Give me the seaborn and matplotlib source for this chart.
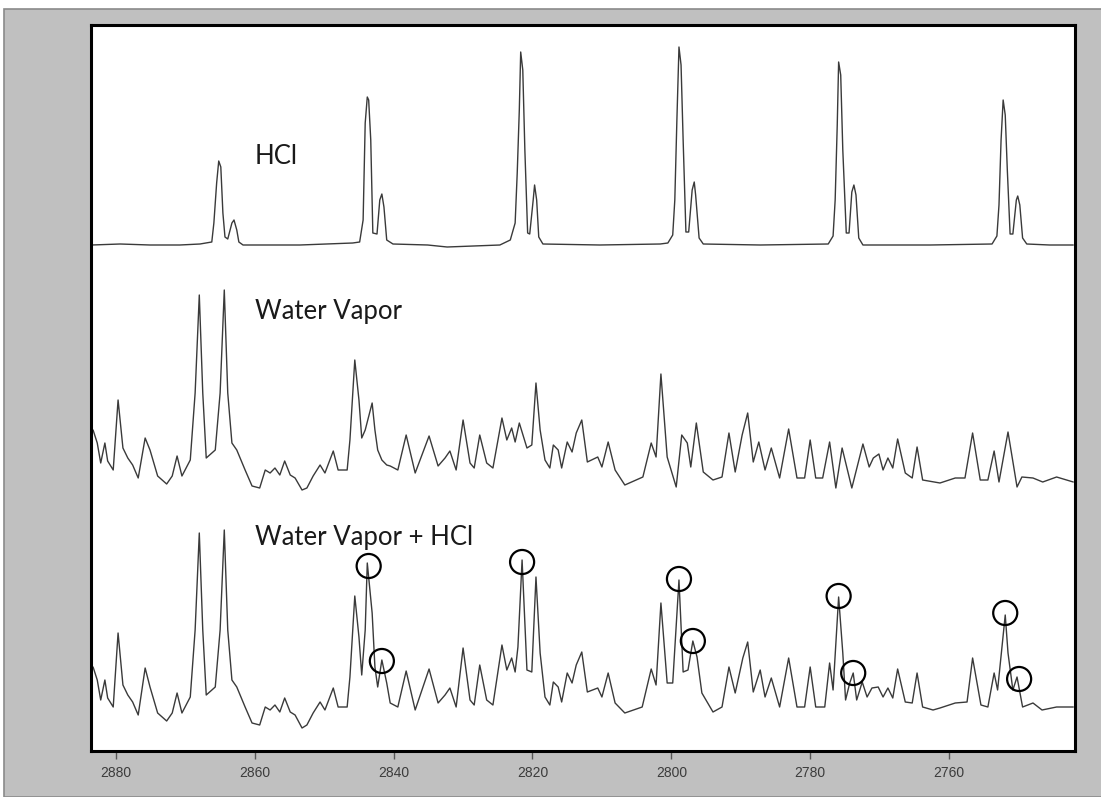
import numpy as np
import pandas as pd
import matplotlib
matplotlib.use("Agg")
import matplotlib.pyplot as plt
import seaborn as sns
from matplotlib.patches import Rectangle

# -------------------------------
# Data: wavenumber (cm-1) and intensity (a.u., own baseline = 0)
# -------------------------------
hcl_wn = [2883.5, 2879.4, 2875.1, 2870.8, 2867.9, 2866.2, 2865.9, 2865.5, 2865.2, 2864.9,
          2864.6, 2864.3, 2863.9, 2863.3, 2863.0, 2862.6, 2862.3, 2861.7, 2853.5, 2845.9,
          2844.9, 2844.4, 2844.1, 2843.8, 2843.6, 2843.3, 2843.0, 2842.4, 2842.0, 2841.7,
          2841.4, 2841.0, 2840.1, 2835.1, 2832.3, 2824.7, 2823.2, 2822.5, 2822.2, 2821.9,
          2821.7, 2821.4, 2821.1, 2820.7, 2820.4, 2819.9, 2819.7, 2819.4, 2819.1, 2818.5,
          2810.3, 2801.6, 2800.5, 2799.8, 2799.5, 2799.2, 2798.9, 2798.6, 2798.3, 2797.9,
          2797.5, 2797.0, 2796.7, 2796.5, 2796.0, 2795.4, 2787.2, 2777.4, 2776.7, 2776.4,
          2776.1, 2775.9, 2775.6, 2775.3, 2774.8, 2774.4, 2774.0, 2773.7, 2773.4, 2773.0,
          2772.4, 2762.7, 2753.8, 2753.1, 2752.8, 2752.5, 2752.2, 2751.9, 2751.6, 2751.2,
          2750.8, 2750.3, 2750.1, 2749.8, 2749.4, 2748.8, 2745.5, 2742.1]
hcl_int = [0, 1, 0, 0, 1, 3, 22, 62, 84, 78,
           32, 8, 6, 22, 25, 15, 3, 0, 0, 2,
           3, 25, 122, 148, 145, 105, 12, 11, 45, 51,
           38, 5, 1, 0, -2, 0, 5, 22, 72, 135,
           193, 175, 95, 12, 11, 45, 60, 45, 8, 1,
           0, 1, 2, 10, 45, 125, 198, 180, 105, 13,
           13, 55, 63, 50, 7, 1, 0, 1, 9, 45,
           120, 183, 170, 95, 12, 12, 53, 60, 50, 7,
           0, 0, 1, 9, 40, 105, 145, 130, 75, 11,
           11, 45, 49, 40, 7, 1, 0, 0]

water_wn = [2883.3, 2882.7, 2882.2, 2881.6, 2881.2, 2880.4, 2879.7, 2879.0, 2878.3, 2877.6,
            2876.8, 2875.8, 2875.1, 2874.0, 2872.7, 2871.9, 2871.2, 2870.5, 2869.3, 2868.6,
            2868.0, 2867.5, 2867.0, 2866.2, 2865.7, 2865.0, 2864.4, 2863.9, 2863.3, 2862.6,
            2861.4, 2860.4, 2859.3, 2858.5, 2857.8, 2857.1, 2856.4, 2855.7, 2854.9, 2854.2,
            2853.2, 2852.5, 2851.6, 2850.6, 2849.9, 2848.7, 2848.0, 2846.7, 2846.3, 2845.6,
            2845.0, 2844.6, 2844.1, 2843.1, 2842.7, 2842.3, 2841.7, 2841.0, 2840.5, 2839.4,
            2838.2, 2836.9, 2834.9, 2833.6, 2832.6, 2831.9, 2831.0, 2830.0, 2829.0, 2828.4,
            2827.6, 2826.6, 2825.7, 2824.4, 2823.7, 2823.0, 2822.5, 2821.9, 2820.8, 2820.1,
            2819.5, 2818.9, 2818.2, 2817.5, 2817.0, 2816.3, 2815.8, 2815.0, 2814.3, 2813.7,
            2812.9, 2812.1, 2810.6, 2810.0, 2809.1, 2808.1, 2806.7, 2804.1, 2802.9, 2802.2,
            2801.5, 2800.6, 2799.3, 2798.5, 2797.7, 2797.2, 2796.4, 2795.4, 2794.0, 2792.7,
            2791.7, 2790.8, 2789.8, 2789.0, 2788.2, 2787.4, 2786.5, 2785.6, 2784.4, 2783.1,
            2781.9, 2780.8, 2780.0, 2779.2, 2778.2, 2777.2, 2776.3, 2775.4, 2774.0, 2772.4,
            2771.5, 2770.9, 2770.1, 2769.5, 2768.8, 2768.1, 2767.4, 2766.3, 2765.3, 2764.6,
            2763.8, 2761.3, 2759.1, 2757.7, 2756.6, 2755.5, 2754.4, 2753.5, 2752.8, 2751.5,
            2750.2, 2749.5, 2747.9, 2746.5, 2744.5, 2742.1]
water_int = [60, 47, 27, 47, 29, 20, 90, 42, 32, 25,
             12, 52, 40, 14, 6, 14, 34, 14, 30, 97,
             195, 97, 32, 37, 40, 97, 200, 97, 47, 40,
             20, 4, 2, 20, 17, 22, 15, 29, 15, 12,
             0, 2, 14, 25, 17, 39, 20, 20, 50, 130,
             90, 52, 60, 87, 60, 40, 30, 25, 24, 20,
             55, 17, 54, 24, 32, 39, 20, 70, 27, 22,
             55, 27, 22, 72, 50, 62, 48, 67, 42, 45,
             107, 60, 30, 22, 45, 40, 22, 48, 38, 57,
             70, 28, 33, 23, 48, 20, 5, 13, 47, 33,
             116, 33, 3, 55, 47, 23, 67, 18, 10, 13,
             57, 18, 55, 77, 28, 48, 20, 42, 12, 61,
             12, 12, 50, 12, 12, 48, 2, 42, 2, 46,
             23, 32, 36, 20, 32, 22, 51, 17, 12, 43,
             10, 7, 12, 12, 57, 10, 10, 39, 8, 58,
             3, 13, 12, 8, 13, 8]

mix_wn = [2883.3, 2882.7, 2882.2, 2881.6, 2881.2, 2880.4, 2879.7, 2879.0, 2878.3, 2877.6,
          2876.8, 2875.8, 2875.1, 2874.0, 2872.7, 2871.9, 2871.2, 2870.5, 2869.3, 2868.6,
          2868.0, 2867.5, 2867.0, 2866.2, 2865.7, 2865.0, 2864.4, 2863.9, 2863.3, 2862.6,
          2861.4, 2860.4, 2859.3, 2858.5, 2857.8, 2857.1, 2856.4, 2855.7, 2854.9, 2854.2,
          2853.2, 2852.5, 2851.6, 2850.6, 2849.9, 2848.7, 2848.0, 2846.7, 2846.3, 2845.6,
          2845.0, 2844.6, 2844.1, 2843.8, 2843.1, 2842.7, 2842.3, 2841.7, 2841.0, 2840.5,
          2839.4, 2838.2, 2836.9, 2834.9, 2833.6, 2832.6, 2831.9, 2831.0, 2830.0, 2829.0,
          2828.4, 2827.6, 2826.6, 2825.7, 2824.4, 2823.7, 2823.0, 2822.5, 2822.1, 2821.5,
          2820.8, 2820.1, 2819.5, 2818.9, 2818.2, 2817.5, 2817.0, 2816.3, 2815.8, 2815.0,
          2814.3, 2813.7, 2812.9, 2812.1, 2810.6, 2810.0, 2809.1, 2808.1, 2806.7, 2804.2,
          2802.9, 2802.2, 2801.5, 2800.6, 2799.8, 2798.9, 2798.3, 2797.6, 2796.9, 2796.3,
          2795.6, 2794.0, 2792.7, 2791.7, 2790.8, 2789.7, 2789.0, 2788.2, 2787.2, 2786.5,
          2785.6, 2784.4, 2783.1, 2781.9, 2780.8, 2780.0, 2779.2, 2777.9, 2777.2, 2776.7,
          2775.9, 2775.3, 2774.9, 2774.3, 2773.8, 2773.3, 2772.5, 2771.8, 2771.1, 2770.2,
          2769.5, 2768.8, 2768.1, 2767.4, 2766.3, 2765.3, 2764.6, 2763.8, 2762.3, 2761.3,
          2759.1, 2757.4, 2756.6, 2755.4, 2754.4, 2753.5, 2753.0, 2751.9, 2751.5, 2750.8,
          2750.2, 2749.4, 2747.9, 2746.6, 2744.5, 2742.1]
mix_int = [61, 48, 28, 48, 30, 21, 95, 43, 33, 26,
           13, 60, 41, 15, 7, 15, 35, 15, 31, 98,
           195, 98, 33, 38, 41, 98, 198, 98, 48, 41,
           21, 5, 3, 21, 18, 23, 16, 30, 16, 13,
           0, 3, 15, 26, 18, 40, 21, 21, 51, 132,
           91, 53, 98, 165, 115, 61, 41, 68, 45, 25,
           21, 57, 18, 59, 25, 33, 40, 21, 80, 28,
           23, 63, 28, 23, 83, 58, 70, 56, 81, 168,
           58, 56, 151, 75, 31, 23, 46, 41, 26, 55,
           45, 63, 76, 36, 40, 31, 55, 25, 15, 21,
           59, 43, 125, 45, 45, 148, 56, 58, 87, 71,
           35, 16, 21, 61, 35, 70, 86, 36, 58, 31,
           50, 21, 70, 21, 21, 61, 21, 21, 65, 38,
           131, 75, 28, 45, 55, 28, 46, 31, 40, 41,
           31, 40, 30, 59, 26, 25, 55, 21, 18, 20,
           25, 26, 70, 23, 21, 55, 38, 113, 75, 38,
           51, 21, 25, 18, 21, 21]

# HCl lines picked out in the mixture spectrum
circle_wn = [2843.6, 2841.7, 2821.5, 2798.9, 2796.9, 2775.9, 2773.8, 2751.9, 2749.9]
circle_int = [162, 67, 166, 149, 87, 132, 55, 115, 49]

labels = ["HCl", "Water Vapor", "Water Vapor + HCl"]
xticks = [2880, 2860, 2840, 2820, 2800, 2780, 2760]

# vertical stacking offsets of the three spectra
offsets = [506, 261, 23]

# -------------------------------
# Plot
# -------------------------------
sns.set_theme(style="white")
plt.rcParams['font.family'] = ['Liberation Sans', 'DejaVu Sans']

fig = plt.figure(figsize=(11.01, 7.97), dpi=100, facecolor="white")
# grey window frame
fig.patches.append(Rectangle((4 / 1101, 0), 1, 788 / 797, transform=fig.transFigure,
                             facecolor="#c0c0c0", edgecolor="#8a8a8a", linewidth=1.2,
                             zorder=-10))

ax = fig.add_axes([91 / 1101, 46 / 797, 984 / 1101, 726 / 797])
ax.set_facecolor("white")

traces = [(hcl_wn, hcl_int), (water_wn, water_int), (mix_wn, mix_int)]
for (wn, inten), off in zip(traces, offsets):
    df = pd.DataFrame({"wn": wn, "y": np.array(inten) + off})
    sns.lineplot(data=df, x="wn", y="y", ax=ax, color="#3a3a3a", linewidth=1.0,
                 estimator=None, sort=False)

ax.scatter(circle_wn, np.array(circle_int) + offsets[2], s=300, facecolors="none",
           edgecolors="black", linewidths=1.6, zorder=5)

label_y = [595, 440, 214]
for txt, yy in zip(labels, label_y):
    ax.text(2860.0, yy, txt, fontsize=18.5, va="center", ha="left", color="#1a1a1a",
            family=["Lato", "DejaVu Sans"])

ax.set_xlim(2883.6, 2741.85)
ax.set_ylim(0, 726)
ax.set_xticks(xticks)
ax.set_xticklabels([str(t) for t in xticks])
ax.set_yticks([])
ax.set_xlabel("")
ax.set_ylabel("")
ax.tick_params(axis="x", bottom=True, direction="out", length=6, width=1,
               color="#555555", labelsize=10, labelcolor="#3c3c3c", pad=5)
for sp in ax.spines.values():
    sp.set_visible(True)
    sp.set_color("black")
    sp.set_linewidth(2.2)

fig.savefig("out.png", dpi=100, facecolor=fig.get_facecolor())
